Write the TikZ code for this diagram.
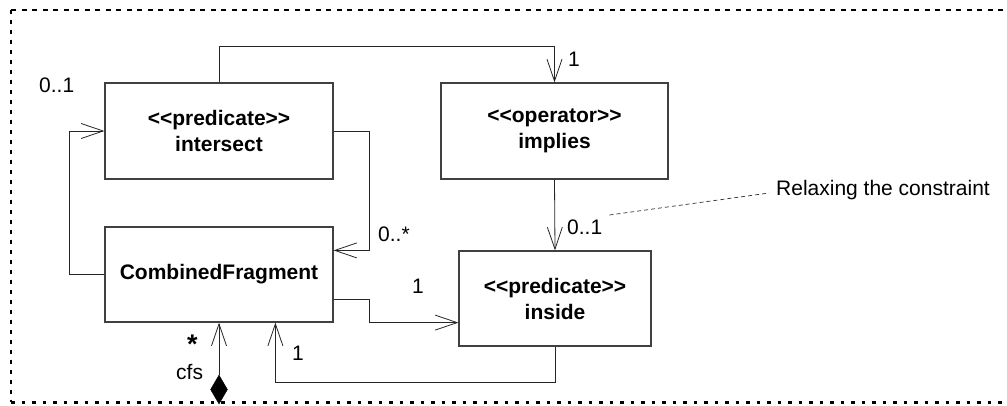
\documentclass[tikz,border=0pt]{standalone}
\usepackage{fontspec}
\setmainfont{Liberation Sans}
\usetikzlibrary{arrows.meta,shapes.geometric,calc}

% stereotype brackets, kept as two plain angle brackets each
\newcommand\stereotype[1]{<\kern0pt<#1>\kern0pt>}

\begin{document}
\begin{tikzpicture}[x=1pt,y=-1pt,
  every node/.style={font=\fontsize{21pt}{26pt}\selectfont},
  classbox/.style={draw=black!75, line width=1.2pt, fill=white, align=center,
    inner sep=0pt, font=\fontsize{21pt}{26pt}\selectfont\bfseries},
  assoc/.style={draw=black!85, line width=0.8pt,
    -{Straight Barb[length=22pt,width=15pt,line width=0.8pt]}},
  mult/.style={inner sep=0pt, anchor=west},
  notelink/.style={draw=black!80, line width=0.7pt, dash pattern=on 4pt off 3pt},
  framedash/.style={line width=2.5pt}
]
\useasboundingbox (0,0) rectangle (1007,405);

% enclosing frame (open on the right)
\draw[framedash, line width=2pt, dash pattern=on 5pt off 5.5pt] (11,9.5) -- (1007,9.5);
\draw[framedash, dash pattern=on 4pt off 6pt] (11,9.5) -- (11,402);
\draw[framedash, line width=3pt, dash pattern=on 3.5pt off 7pt] (11,402) -- (1007,402);

% classes
\node[classbox, minimum width=228pt, minimum height=96pt] (inter) at (219,131)
  {\stereotype{predicate}\\intersect};
\node[classbox, minimum width=227pt, minimum height=96pt] (impl) at (554.5,131)
  {\stereotype{operator}\\implies};
\node[classbox, minimum width=228pt, minimum height=95pt] (cf) at (219,274.5)
  {CombinedFragment};
\node[classbox, minimum width=192pt, minimum height=95pt] (ins) at (555,298.5)
  {\stereotype{predicate}\\inside};

% composition diamond
\node[diamond, fill=black, draw=black, minimum width=17pt, minimum height=29pt,
  inner sep=0pt] (dia) at (219,389.5) {};

% associations
\draw[assoc] (inter.north) -- ++(0,-36) -| (impl.north);
\draw[assoc] (inter.east) -- ++(36,0) |- ($(cf.north east)+(0,24)$);
\draw[assoc] (cf.west) -- ++(-35,0) |- (inter.west);
\draw[assoc] (impl.south) -- (ins.north);
\draw[assoc] ($(cf.south east)+(0,-23)$) -- ++(36,0) |- ($(ins.south west)+(0,-24)$);
\draw[assoc] (ins.south) -- ++(0,36) -| ($(cf.south west)+(171,0)$);
\draw[assoc] (dia.north) -- (cf.south);

% multiplicities and role names
\node[mult] (m1) at (568,59) {1};
\node[mult] (m2) at (378,234) {0..*};
\node[mult] (m3) at (39,85) {0..1};
\node[mult] (m4) at (567,227) {0..1};
\node[mult] (m5) at (412,286) {1};
\node[mult] (m6) at (292,353) {1};
\node[mult, font=\fontsize{27pt}{28pt}\selectfont\bfseries] (m7) at (187,344) {*};
\node[mult] (m8) at (176,372) {cfs};

% note
\node[anchor=west, inner sep=0pt] (note) at (776,190) {Relaxing the constraint};
\draw[notelink] ($(m4.east)+(7,-12)$) -- ($(note.west)+(-7,3)$);
\end{tikzpicture}
\end{document}
